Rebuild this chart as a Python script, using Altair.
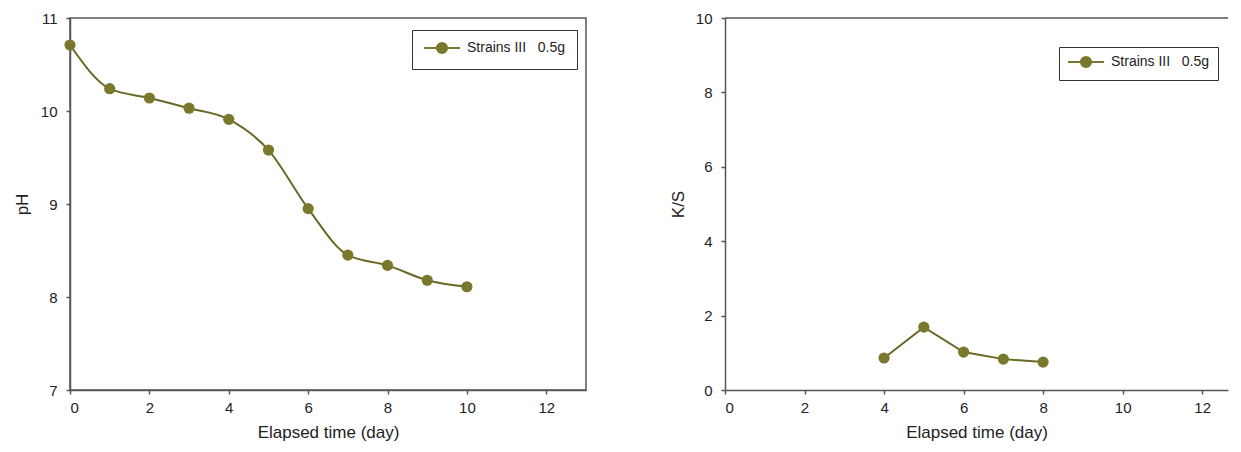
import altair as alt
import pandas as pd

# ---- data ----
days_ph = [0, 1, 2, 3, 4, 5, 6, 7, 8, 9, 10]
ph_values = [10.71, 10.24, 10.14, 10.03, 9.91, 9.58, 8.95, 8.45, 8.34, 8.18, 8.11]
days_ks = [4, 5, 6, 7, 8]
ks_values = [0.86, 1.69, 1.02, 0.83, 0.75]
series_left = "Strains III\u00a0\u00a0\u00a00.5g"
series_right = "Strains\u00a0III\u00a0\u00a0\u00a00.5g"
x_ticks = [0, 2, 4, 6, 8, 10, 12]
ph_ticks = [7, 8, 9, 10, 11]
ks_ticks = [0, 2, 4, 6, 8, 10]

OLIVE = "#7a782c"
LINE = "#6a6824"
AXIS = "#555555"
FONT = "Liberation Sans"

# legend symbol: line with a circle in the middle
SYMBOL = "M-1,0L5,0M1.15,0A0.85,0.85,0,1,1,2.85,0A0.85,0.85,0,1,1,1.15,0Z"

df_ph = pd.DataFrame({"day": days_ph, "val": ph_values, "series": series_left})
df_ks = pd.DataFrame({"day": days_ks, "val": ks_values, "series": series_right})


def legend(x, y, pad):
    return alt.Legend(
        title=None,
        orient="none",
        legendX=x,
        legendY=y,
        symbolType=SYMBOL,
        symbolSize=144,
        symbolStrokeWidth=2,
        symbolFillColor=OLIVE,
        symbolStrokeColor=OLIVE,
        labelOffset=30,
        labelFont=FONT,
        labelFontSize=14,
        labelColor="#222222",
        strokeColor="#333333",
        fillColor="white",
        padding=pad,
    )


def panel(df, ydom, yticks, ytitle, xmax, interp, leg, ytitle_pad):
    x = alt.X(
        "day:Q",
        scale=alt.Scale(domain=[0, xmax], nice=False, zero=False),
        axis=alt.Axis(values=x_ticks, title="Elapsed time (day)", tickSize=4,
                      labelPadding=6, titlePadding=9, format="d"),
    )
    y = alt.Y(
        "val:Q",
        scale=alt.Scale(domain=ydom, nice=False, zero=False),
        axis=alt.Axis(values=yticks, title=ytitle, tickSize=4, labelPadding=9,
                      titlePadding=ytitle_pad, format="d"),
    )
    line = alt.Chart(df).mark_line(color=LINE, strokeWidth=2, interpolate=interp).encode(x=x, y=y)
    pts = alt.Chart(df).mark_point(filled=True, size=125, opacity=1).encode(
        x=x,
        y=y,
        color=alt.Color("series:N", scale=alt.Scale(range=[OLIVE]), legend=leg),
    )
    return line, pts


l_line, l_pts = panel(df_ph, [7, 11], ph_ticks, "pH", 13, "monotone",
                      legend(342, 12, 11), 9)
left = alt.layer(l_line, l_pts).properties(width=516, height=372)

r_line, r_pts = panel(df_ks, [0, 10], ks_ticks, "K/S", 12.65, "linear",
                      legend(334, 29, 8), 8)
top_rule = alt.Chart(pd.DataFrame({"val": [10]})).mark_rule(
    color=AXIS, strokeWidth=1.5).encode(y=alt.Y("val:Q"))
right = alt.layer(top_rule, r_line, r_pts).properties(
    width=503, height=372, view=alt.ViewBackground(stroke="transparent"))

chart = (
    alt.hconcat(left, right, spacing=81)
    .resolve_scale(color="independent", x="independent", y="independent")
    .properties(padding={"left": 4, "top": 2, "right": 0, "bottom": 0})
    .configure_view(stroke=AXIS, strokeWidth=1.5)
    .configure_axis(
        grid=False,
        domainColor=AXIS,
        domainWidth=1.5,
        tickColor=AXIS,
        tickWidth=1.5,
        labelFont=FONT,
        labelFontSize=15,
        labelColor="#222222",
        titleFont=FONT,
        titleFontSize=17,
        titleFontWeight="normal",
        titleColor="#222222",
    )
)

chart.save("out.html", embed_options={"renderer": "svg", "actions": False})
